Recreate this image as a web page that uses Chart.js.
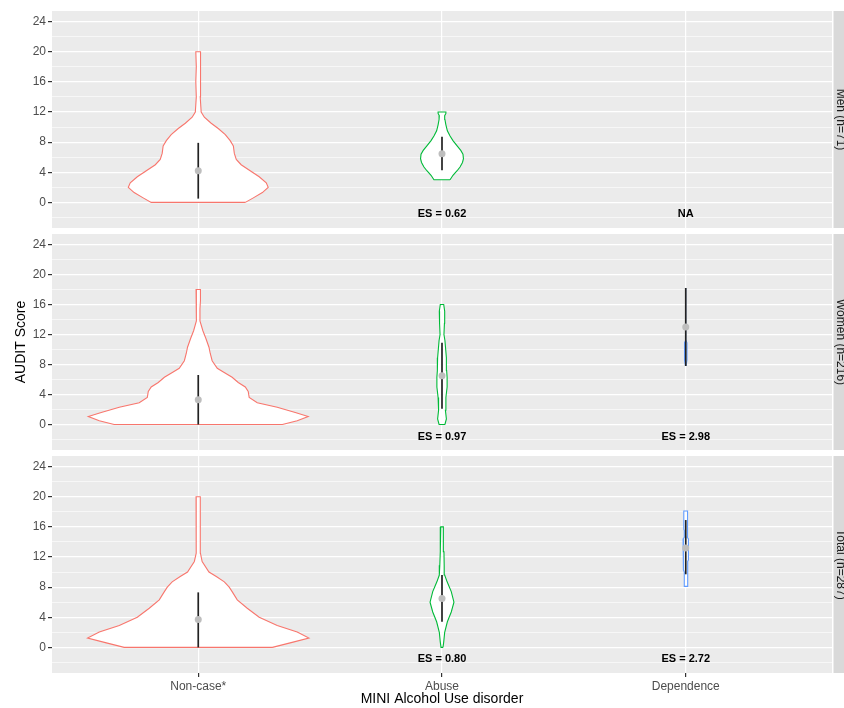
<!DOCTYPE html>
<html>
<head>
<meta charset="utf-8">
<script src="https://cdn.jsdelivr.net/npm/chart.js@4.4.0/dist/chart.umd.min.js"></script>
<style>
  body { margin: 0; background: #fff; }
  #wrap { position: relative; width: 844px; height: 708px; overflow: hidden; background: #fff; }
  .panel { position: absolute; left: 0; width: 844px; }
</style>
</head>
<body>
<div id="wrap">
  <div class="panel" style="top:0;height:232px"><canvas id="menChart" width="844" height="232"></canvas></div>
  <div class="panel" style="top:230px;height:224px"><canvas id="womenChart" width="844" height="224"></canvas></div>
  <div class="panel" style="top:452px;height:256px"><canvas id="totalChart" width="844" height="256"></canvas></div>
</div>
<script>
// categories + colours (ggplot default hues)
const categories = ['Non-case*', 'Abuse', 'Dependence'];
const groupColors = ['#F8766D', '#00BA38', '#619CFF'];
const yTickLabels = [0, 4, 8, 12, 16, 20, 24];
const yMinorTicks = [-2, 2, 6, 10, 14, 18, 22];
const panelLabels = ['Men (n=71)', 'Women (n=216)', 'Total (n=287)'];

// violin outlines: [AUDIT score, half width in category units]
const menNoncase = [[0,0.193],[0.6,0.226],[1.3,0.263],[2.0,0.287],[2.6,0.279],[3.4,0.250],[4.2,0.213],[5.0,0.176],[5.7,0.156],[6.5,0.148],[7.5,0.144],[8.2,0.131],[9.0,0.111],[9.8,0.082],[10.5,0.053],[11.3,0.025],[12.0,0.012],[14.0,0.008],[16.0,0.010],[18.0,0.008],[20.0,0.010]];
const menAbuse = [[3.0,0.033],[3.6,0.045],[4.2,0.062],[4.7,0.074],[5.3,0.084],[5.8,0.088],[6.4,0.086],[6.9,0.077],[7.5,0.062],[8.2,0.045],[8.8,0.033],[9.5,0.022],[10.3,0.016],[11.0,0.012],[11.5,0.011],[11.8,0.016],[12.0,0.016]];
const womenNoncase = [[0,0.345],[0.5,0.406],[1.06,0.451],[1.6,0.398],[2.3,0.324],[2.9,0.242],[3.6,0.209],[4.4,0.205],[5.0,0.193],[5.6,0.164],[6.3,0.139],[7.0,0.103],[7.5,0.078],[8.5,0.057],[9.5,0.049],[10.3,0.044],[11.5,0.031],[12.5,0.019],[13.8,0.007],[15.4,0.007],[16.5,0.009],[18.0,0.009]];
const womenAbuse = [[0,0.012],[0.75,0.018],[1.9,0.014],[3.6,0.016],[5.0,0.021],[6.3,0.021],[7.2,0.019],[8.9,0.018],[11.2,0.012],[12.0,0.008],[13.5,0.010],[15.1,0.011],[16.0,0.007]];
const womenDependence = [[7.8,0.001],[8.6,0.005],[10.9,0.005],[11.2,0.001],[18.2,0.001]];
const totalNoncase = [[0,0.304],[0.6,0.377],[1.24,0.454],[2.04,0.406],[2.9,0.324],[4.0,0.250],[5.2,0.201],[6.3,0.160],[7.4,0.139],[8.0,0.127],[8.7,0.107],[9.4,0.074],[10.0,0.044],[11.4,0.016],[12.5,0.009],[15.0,0.008],[17.0,0.008],[20.0,0.009]];
const totalAbuse = [[0,0.004],[0.7,0.007],[2.0,0.011],[3.4,0.022],[4.7,0.038],[6.0,0.049],[7.4,0.038],[8.7,0.021],[9.6,0.011],[10.9,0.009],[12.7,0.008],[14.5,0.006],[16.0,0.005]];
const totalDependence = [[8.1,0.006],[10.0,0.006],[10.3,0.009],[11.4,0.009],[11.6,0.011],[14.4,0.011],[14.6,0.006],[15.5,0.006],[15.7,0.008],[18.1,0.008]];

// mean and mean +/- SD per group
const menMean = [4.2, 6.45, null], menLow = [0.5, 4.25, null], menHigh = [7.9, 8.7, null];
const womenMean = [3.3, 6.5, 13.0], womenLow = [0, 2.1, 7.8], womenHigh = [6.6, 10.9, 18.2];
const totalMean = [3.7, 6.5, 13.2], totalLow = [0, 3.4, 9.7], totalHigh = [7.3, 9.6, 16.9];

// effect size labels
const menES = ['', 'ES = 0.62', 'NA'];
const womenES = ['', 'ES = 0.97', 'ES = 2.98'];
const totalES = ['', 'ES = 0.80', 'ES = 2.72'];
const esY = -1.6;

Chart.defaults.font.family = '"Liberation Sans", Arial, sans-serif';

function violinPoints(profile, center){
  const right = profile.map(([y, w]) => ({x: center + w, y}));
  const left = profile.slice().reverse().map(([y, w]) => ({x: center - w, y}));
  return right.concat(left, [right[0]]);
}

const panelBg = {
  id: 'panelBg',
  beforeDraw(chart){
    const {ctx, chartArea: a} = chart;
    ctx.save();
    ctx.fillStyle = '#EBEBEB';
    ctx.fillRect(a.left, a.top, a.right - a.left, a.bottom - a.top);
    ctx.restore();
  }
};

const stripLabels = {
  id: 'stripLabels',
  afterDraw(chart, args, opts){
    const {ctx, chartArea: a} = chart;
    const x = chart.scales.x, y = chart.scales.y;
    ctx.save();
    ctx.fillStyle = '#D9D9D9';
    ctx.fillRect(a.right + 1.5, a.top, chart.width - a.right, a.bottom - a.top);
    ctx.translate(a.right + 8, (a.top + a.bottom) / 2);
    ctx.rotate(Math.PI / 2);
    ctx.fillStyle = '#1A1A1A';
    ctx.font = '12px "Liberation Sans", Arial, sans-serif';
    ctx.textAlign = 'center'; ctx.textBaseline = 'middle';
    ctx.fillText(opts.strip, 0, 0);
    ctx.restore();
    ctx.save();
    ctx.font = 'bold 11px "Liberation Sans", Arial, sans-serif';
    ctx.fillStyle = '#000';
    ctx.textAlign = 'center'; ctx.textBaseline = 'middle';
    opts.es.forEach((t, i) => { if (t) ctx.fillText(t, x.getPixelForValue(i + 1), y.getPixelForValue(esY)); });
    ctx.restore();
  }
};

function noPad(s){ s.paddingTop = 0; s.paddingBottom = 0; s.paddingLeft = 0; s.paddingRight = 0; }

function makePanel(id, p){
  const datasets = [];
  // mean points on top
  datasets.push({
    data: p.mean.map((m, i) => ({x: i + 1, y: m})).filter(d => d.y !== null),
    showLine: false, pointRadius: 3.5, pointBackgroundColor: '#BEBEBE', pointBorderWidth: 0, order: 0
  });
  p.mean.forEach((m, i) => {
    if (m === null) return;
    datasets.push({
      data: [{x: i + 1, y: p.low[i]}, {x: i + 1, y: p.high[i]}],
      borderColor: '#222', borderWidth: 1.7, pointRadius: 0, fill: false, order: 1
    });
  });
  p.violins.forEach((v, i) => {
    if (!v) return;
    datasets.push({
      data: violinPoints(v, i + 1),
      borderColor: groupColors[i], borderWidth: 1.1, backgroundColor: '#fff',
      fill: 'shape', pointRadius: 0, tension: 0, order: 2
    });
  });

  const isMajor = c => c.tick && yTickLabels.includes(c.tick.value);

  return new Chart(document.getElementById(id), {
    type: 'line',
    data: { datasets },
    plugins: [panelBg, stripLabels],
    options: {
      responsive: false, animation: false, devicePixelRatio: 1,
      layout: { padding: { left: 0, right: 12, top: p.padTop, bottom: p.padBottom } },
      plugins: { legend: { display: false }, tooltip: { enabled: false },
        stripLabels: { strip: p.strip, es: p.es } },
      scales: {
        x: {
          type: 'linear', min: 0.4, max: 3.6,
          afterBuildTicks: s => { s.ticks = categories.map((c, i) => ({value: i + 1})); },
          afterFit: s => { s.height = p.showX ? 35 : 0; noPad(s); },
          grid: { color: '#fff', lineWidth: 1.2, tickColor: '#333', tickLength: 4, drawTicks: p.showX },
          border: { display: false },
          ticks: { display: p.showX, autoSkip: false, maxRotation: 0, padding: 2, color: '#4D4D4D',
            font: { size: 12 }, callback: v => categories[Math.round(v) - 1] },
          title: { display: p.showX, text: 'MINI Alcohol Use disorder', color: '#000',
            font: { size: 14 }, padding: { top: 0, bottom: 0 } }
        },
        y: {
          min: -3.4, max: 25.4,
          afterBuildTicks: s => { s.ticks = yMinorTicks.concat(yTickLabels).sort((a, b) => a - b).map(v => ({value: v})); },
          afterFit: s => { s.width = 52; noPad(s); },
          grid: { color: '#fff', lineWidth: c => isMajor(c) ? 1.2 : 0.6,
            tickColor: c => isMajor(c) ? '#333' : 'rgba(0,0,0,0)', tickLength: 4 },
          border: { display: false },
          ticks: { autoSkip: false, padding: 2, color: '#4D4D4D', font: { size: 12 },
            callback: v => yTickLabels.includes(v) ? String(v) : '' },
          title: { display: !!p.yTitle, text: 'AUDIT Score', color: '#000',
            font: { size: 14 }, padding: { top: 12.5, bottom: 0 } }
        }
      }
    }
  });
}

makePanel('menChart', { violins: [menNoncase, menAbuse, null], mean: menMean, low: menLow, high: menHigh,
  es: menES, strip: panelLabels[0], padTop: 11, padBottom: 0, showX: false, yTitle: false });
makePanel('womenChart', { violins: [womenNoncase, womenAbuse, womenDependence], mean: womenMean, low: womenLow, high: womenHigh,
  es: womenES, strip: panelLabels[1], padTop: 3, padBottom: 0, showX: false, yTitle: true });
makePanel('totalChart', { violins: [totalNoncase, totalAbuse, totalDependence], mean: totalMean, low: totalLow, high: totalHigh,
  es: totalES, strip: panelLabels[2], padTop: 4, padBottom: 0, showX: true, yTitle: false });
</script>
</body>
</html>
